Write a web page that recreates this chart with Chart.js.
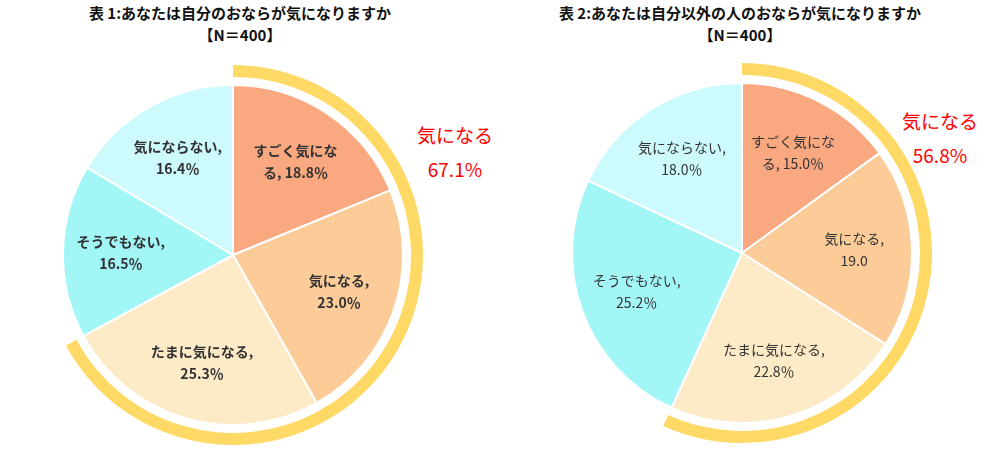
<!DOCTYPE html>
<html><head><meta charset="utf-8">
<script src="https://cdn.jsdelivr.net/npm/chart.js@4"></script>
<style>
body{margin:0;width:1000px;height:456px;background:#fff;position:relative;overflow:hidden;font-family:"Noto Sans CJK JP",sans-serif}
.t{position:absolute;font-weight:bold;font-size:15px;color:#111;text-align:center;line-height:22px}
.red{position:absolute;color:#f00;font-size:19px;text-align:center;line-height:34px}
canvas{position:absolute}
</style></head><body>
<div class="t" style="left:30px;top:2px;width:420px">表 1:あなたは自分のおならが気になりますか<br>【N＝400】</div>
<div class="t" style="left:505px;top:2px;width:470px">表 2:あなたは自分以外の人のおならが気になりますか<br>【N＝400】</div>
<div class="red" style="left:400px;top:118px;width:110px">気になる<br>67.1%</div>
<div class="red" style="left:890px;top:104px;width:100px">気になる<br>56.8%</div>
<canvas id="c1" width="380" height="380" style="left:43px;top:65px"></canvas>
<canvas id="c2" width="380" height="380" style="left:552px;top:63px"></canvas>
<script>
// ── Data ─────────────────────────────────────────────────────
const categories = ["すごく気になる", "気になる", "たまに気になる", "そうでもない", "気にならない"];
const ownValues = [18.8, 23.0, 25.3, 16.5, 16.4];
const othersValues = [15.0, 19.0, 22.8, 25.2, 18.0];
const ownConcern = 67.1;
const othersConcern = 56.8;
const ownLabels = [["すごく気にな", "る, 18.8％"], ["気になる,", "23.0％"], ["たまに気になる,", "25.3％"], ["そうでもない,", "16.5％"], ["気にならない,", "16.4％"]];
const othersLabels = [["すごく気にな", "る, 15.0％"], ["気になる,", "19.0"], ["たまに気になる,", "22.8％"], ["そうでもない,", "25.2％"], ["気にならない,", "18.0％"]];

const sliceColors = ["#F9A880", "#FBCB98", "#FDEAC6", "#A3F6F6", "#CDFAFC"];

const labelPlugin = {
    id: "sliceLabels",
    afterDatasetsDraw(chart, args, opts) {
        const ctx = chart.ctx;
        const meta = chart.getDatasetMeta(2);
        ctx.save();
        ctx.fillStyle = "#333";
        ctx.font = (opts.bold ? "bold " : "") + "14px 'Noto Sans CJK JP'";
        ctx.textAlign = "center";
        ctx.textBaseline = "middle";
        meta.data.forEach((arc, i) => {
            const a = (arc.startAngle + arc.endAngle) / 2;
            const r = arc.outerRadius * 0.66;
            const x = arc.x + Math.cos(a) * r, y = arc.y + Math.sin(a) * r;
            opts.labels[i].forEach((line, k) => ctx.fillText(line, x, y + (k - 0.5) * 22));
        });
        ctx.restore();
    }
};

function makePie(id, values, concern, labels, bold) {
    new Chart(document.getElementById(id), {
        type: "doughnut",
        data: {
            labels: categories,
            datasets: [
                { data: [concern, 100 - concern], backgroundColor: ["#FFD966", "rgba(0,0,0,0)"], borderWidth: 0, weight: 12 },
                { data: [100], backgroundColor: ["rgba(0,0,0,0)"], borderWidth: 0, weight: 8 },
                { data: values, backgroundColor: sliceColors, borderColor: "#fff", borderWidth: 2, weight: 170 }
            ]
        },
        options: {
            responsive: false,
            animation: false,
            cutout: 0,
            layout: { padding: 0 },
            plugins: {
                legend: { display: false },
                tooltip: { enabled: false },
                sliceLabels: { labels, bold }
            }
        },
        plugins: [labelPlugin]
    });
}

makePie("c1", ownValues, ownConcern, ownLabels, true);
makePie("c2", othersValues, othersConcern, othersLabels, false);
</script>
</body></html>
